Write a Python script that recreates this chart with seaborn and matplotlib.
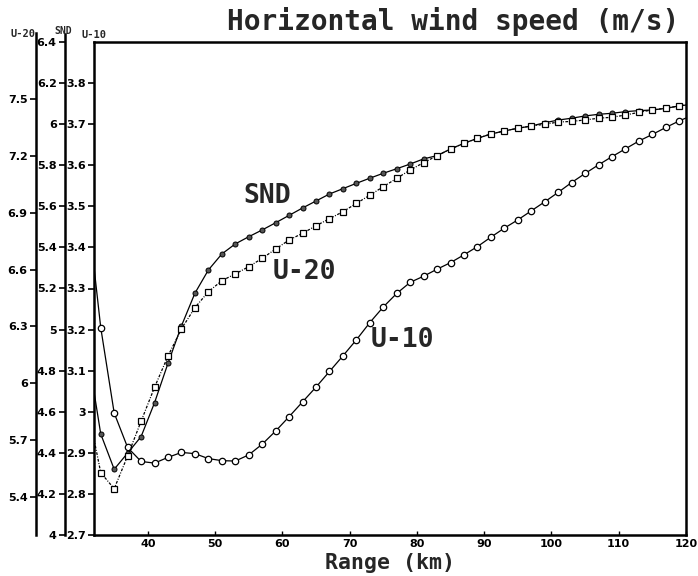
import matplotlib
matplotlib.use("Agg")
import matplotlib.pyplot as plt
import seaborn as sns
from matplotlib.ticker import FuncFormatter

# ---------------- data ----------------
range_km = [32, 33, 35, 37, 39, 41, 43, 45, 47, 49, 51, 53, 55, 57, 59, 61, 63, 65,
            67, 69, 71, 73, 75, 77, 79, 81, 83, 85, 87, 89, 91, 93, 95, 97, 99,
            101, 103, 105, 107, 109, 111, 113, 115, 117, 119, 120]

u10 = [3.352, 3.205, 2.997, 2.913, 2.879, 2.875, 2.889, 2.901, 2.898, 2.886,
       2.881, 2.880, 2.895, 2.921, 2.953, 2.988, 3.024, 3.060, 3.098, 3.136,
       3.175, 3.217, 3.255, 3.288, 3.315, 3.330, 3.347, 3.363, 3.382, 3.402,
       3.425, 3.447, 3.467, 3.489, 3.511, 3.534, 3.558, 3.580, 3.601, 3.621,
       3.640, 3.659, 3.675, 3.692, 3.708, 3.715]

snd = [4.698, 4.492, 4.320, 4.399, 4.479, 4.644, 4.836, 5.018, 5.177, 5.290,
       5.368, 5.417, 5.452, 5.485, 5.520, 5.556, 5.592, 5.626, 5.660, 5.686,
       5.712, 5.737, 5.761, 5.783, 5.806, 5.831, 5.847, 5.879, 5.907, 5.931,
       5.952, 5.967, 5.980, 5.991, 6.007, 6.020, 6.029, 6.040, 6.048, 6.053,
       6.061, 6.066, 6.069, 6.077, 6.089, 6.093]

u20 = [5.706, 5.529, 5.444, 5.617, 5.800, 5.979, 6.144, 6.287, 6.399, 6.483,
       6.541, 6.577, 6.615, 6.659, 6.708, 6.756, 6.791, 6.831, 6.868, 6.905,
       6.949, 6.992, 7.037, 7.081, 7.125, 7.164, 7.200, 7.236, 7.266, 7.292,
       7.315, 7.331, 7.345, 7.357, 7.366, 7.378, 7.381, 7.389, 7.398, 7.403,
       7.415, 7.429, 7.442, 7.451, 7.463, 7.468]

x_ticks = [40, 50, 60, 70, 80, 90, 100, 110, 120]
u10_ticks = [2.7, 2.8, 2.9, 3.0, 3.1, 3.2, 3.3, 3.4, 3.5, 3.6, 3.7, 3.8]
snd_ticks = [4.0, 4.2, 4.4, 4.6, 4.8, 5.0, 5.2, 5.4, 5.6, 5.8, 6.0, 6.2, 6.4]
u20_ticks = [5.4, 5.7, 6.0, 6.3, 6.6, 6.9, 7.2, 7.5]

title = "Horizontal wind speed (m/s)"
xlabel = "Range (km)"

# ---------------- style ----------------
sns.set_theme(style="white")
plt.rcParams["font.family"] = ["DejaVu Sans"]

fig = plt.figure(figsize=(6.98, 5.76), dpi=100)
W, H = 698, 576
ax = fig.add_axes([94 / W, 41 / H, 592 / W, 493 / H])
ax2 = ax.twinx()
ax3 = ax.twinx()

fmt = FuncFormatter(lambda v, p: f"{v:g}")

# U-10 (main)
sns.lineplot(x=range_km, y=u10, ax=ax, color="black", lw=0.9, marker="o",
             markersize=4.6, markerfacecolor="white", markeredgecolor="black",
             markeredgewidth=0.9, markevery=slice(1, -1))
# SND
sns.lineplot(x=range_km, y=snd, ax=ax2, color="black", lw=0.9, marker="o",
             markersize=3.6, markerfacecolor="#555555", markeredgecolor="black",
             markeredgewidth=0.7, markevery=slice(1, -1))
# U-20
sns.lineplot(x=range_km, y=u20, ax=ax3, color="black", lw=0.9, marker="s",
             markersize=4.4, markerfacecolor="white", markeredgecolor="black",
             markeredgewidth=0.9, markevery=slice(1, -1),
             linestyle=(0, (2.2, 1.2, 0.8, 1.2)))

ax.set_xlim(32, 120)
ax.set_ylim(2.7, 3.9)
ax2.set_ylim(4.0, 6.4)
ax3.set_ylim(5.2, 7.8)

# main axes spines
for s in ["left", "bottom", "top", "right"]:
    ax.spines[s].set_visible(True)
    ax.spines[s].set_color("black")
    ax.spines[s].set_linewidth(1.8)
ax.set_xticks(x_ticks)
ax.set_yticks(u10_ticks)
ax.xaxis.set_major_formatter(fmt)
ax.yaxis.set_major_formatter(fmt)
ax.tick_params(axis="y", left=True, right=False, direction="out", length=4,
               width=1.2, pad=2, labelsize=8, colors="black")
ax.tick_params(axis="x", bottom=True, direction="in", length=3, width=1.0,
               pad=3, labelsize=8, colors="black")
for lab in ax.get_xticklabels() + ax.get_yticklabels():
    lab.set_fontweight("bold")
ax.set_xlabel("")
ax.set_ylabel("")

# extra left axes
for a, pos, ticks, top in [(ax2, -29 / 592, snd_ticks, 6.44),
                           (ax3, -58 / 592, u20_ticks, 7.85)]:
    for s in ["top", "right", "bottom"]:
        a.spines[s].set_visible(False)
    a.spines["left"].set_visible(True)
    a.spines["left"].set_position(("axes", pos))
    a.spines["left"].set_color("black")
    a.spines["left"].set_linewidth(1.8)
    a.spines["left"].set_bounds(a.get_ylim()[0], top)
    a.yaxis.set_ticks_position("left")
    a.yaxis.set_label_position("left")
    a.set_yticks(ticks)
    a.yaxis.set_major_formatter(fmt)
    a.tick_params(axis="y", left=True, right=False, direction="out", length=4,
                  width=1.2, pad=2, labelsize=8, colors="black")
    for lab in a.get_yticklabels():
        lab.set_fontweight("bold")
    a.set_ylabel("")
    a.grid(False)
ax.grid(False)

# axis titles at the top of each spine
fig.text(23 / W, 1 - 34 / H, "U-20", ha="center", va="center", fontsize=7.5,
         fontweight="bold", family="DejaVu Sans Mono")
fig.text(63 / W, 1 - 31 / H, "SND", ha="center", va="center", fontsize=7,
         fontweight="bold", family="DejaVu Sans Mono")
fig.text(94 / W, 1 - 35 / H, "U-10", ha="center", va="center", fontsize=7.5,
         fontweight="bold", family="DejaVu Sans Mono")

# title and x label
fig.text(453 / W, 1 - 22 / H, title, ha="center", va="center", fontsize=20,
         fontweight="bold", family="DejaVu Sans Mono")
fig.text(390 / W, 1 - 563 / H, xlabel, ha="center", va="center", fontsize=15.5,
         fontweight="bold", family="DejaVu Sans Mono")

# curve labels
ax.text(57.8, 3.524, "SND", ha="center", va="center", fontsize=19,
        fontweight="bold", family="DejaVu Sans Mono")
ax.text(63.2, 3.340, "U-20", ha="center", va="center", fontsize=19,
        fontweight="bold", family="DejaVu Sans Mono")
ax.text(77.9, 3.175, "U-10", ha="center", va="center", fontsize=19,
        fontweight="bold", family="DejaVu Sans Mono")

fig.savefig("out.png", dpi=100)
